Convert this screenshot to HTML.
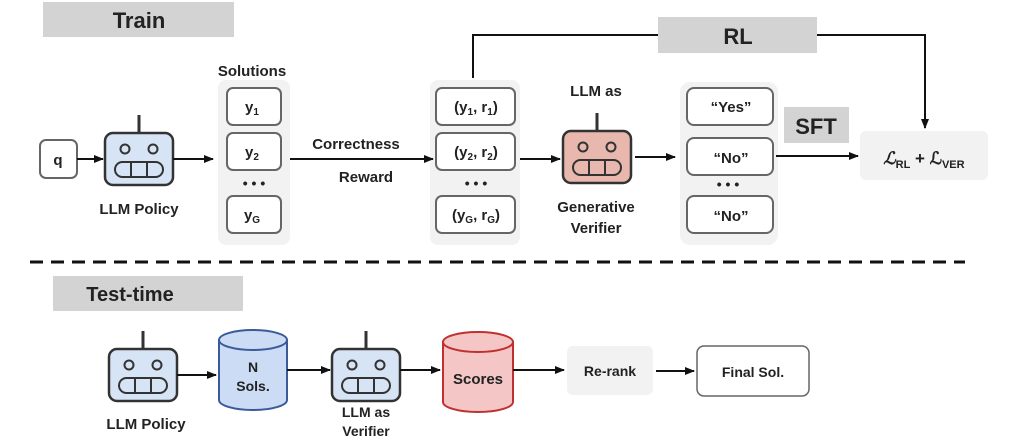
<!DOCTYPE html>
<html><head><style>
html,body{margin:0;padding:0;background:#fff}
svg{display:block}
text{font-family:"Liberation Sans",sans-serif;font-weight:bold;fill:#222}
</style></head><body>
<svg width="1029" height="439" viewBox="0 0 1029 439" xmlns="http://www.w3.org/2000/svg">
<defs>
<marker id="a" markerWidth="10" markerHeight="8" refX="9" refY="4" orient="auto" markerUnits="userSpaceOnUse"><path d="M0,0 L10,4 L0,8 z" fill="#111"/></marker>
<g id="bot">
<line x1="0" y1="-44" x2="0" y2="-26" stroke="#333" stroke-width="3"/>
<rect x="-34" y="-26" width="68" height="52" rx="8" stroke="#333" stroke-width="2.5"/>
<circle cx="-14" cy="-10" r="4.5" fill="none" stroke="#333" stroke-width="2"/>
<circle cx="14" cy="-10" r="4.5" fill="none" stroke="#333" stroke-width="2"/>
<rect x="-24" y="3" width="48" height="15" rx="7.5" fill="none" stroke="#333" stroke-width="2"/>
<line x1="-8" y1="3" x2="-8" y2="18" stroke="#333" stroke-width="2"/>
<line x1="8" y1="3" x2="8" y2="18" stroke="#333" stroke-width="2"/>
</g>
</defs>
<rect x="43" y="2" width="191" height="35" fill="#d3d3d3"/>
<text x="139" y="28" font-size="22" text-anchor="middle">Train</text>
<polyline points="473,78 473,35 658,35" fill="none" stroke="#111" stroke-width="2"/>
<polyline points="817,35 925,35 925,128" fill="none" stroke="#111" stroke-width="2" marker-end="url(#a)"/>
<rect x="658" y="17" width="159" height="36" fill="#d3d3d3"/>
<text x="738" y="44" font-size="22" text-anchor="middle">RL</text>
<rect x="40" y="140" width="37" height="38" rx="6" fill="#fff" stroke="#666" stroke-width="2"/>
<text x="58" y="165" font-size="15" text-anchor="middle">q</text>
<line x1="77" y1="159" x2="103" y2="159" stroke="#111" stroke-width="2" marker-end="url(#a)"/>
<use href="#bot" x="139" y="159" fill="#d6e4f5"/>
<text x="139" y="214" font-size="15" text-anchor="middle">LLM Policy</text>
<line x1="173" y1="159" x2="213" y2="159" stroke="#111" stroke-width="2" marker-end="url(#a)"/>
<text x="252" y="76" font-size="15" text-anchor="middle">Solutions</text>
<rect x="218" y="80" width="72" height="165" rx="8" fill="#f2f2f2"/>
<rect x="430" y="80" width="90" height="165" rx="8" fill="#f2f2f2"/>
<g fill="#fff" stroke="#666" stroke-width="2">
<rect x="227" y="88" width="54" height="37" rx="6"/><rect x="227" y="133" width="54" height="37" rx="6"/><rect x="227" y="196" width="54" height="37" rx="6"/>
<rect x="436" y="88" width="79" height="37" rx="6"/><rect x="436" y="133" width="79" height="37" rx="6"/><rect x="436" y="196" width="79" height="37" rx="6"/>
</g>
<text font-size="15" text-anchor="middle"><tspan x="252" y="112">y<tspan font-size="10" dy="3">1</tspan></tspan></text>
<text font-size="15" text-anchor="middle"><tspan x="252" y="157">y<tspan font-size="10" dy="3">2</tspan></tspan></text>
<text x="254" y="188" font-size="14" text-anchor="middle">• • •</text>
<text font-size="15" text-anchor="middle"><tspan x="252" y="220">y<tspan font-size="10" dy="3">G</tspan></tspan></text>
<line x1="290" y1="159" x2="433" y2="159" stroke="#111" stroke-width="2" marker-end="url(#a)"/>
<text x="356" y="149" font-size="15" text-anchor="middle">Correctness</text>
<text x="366" y="182" font-size="15" text-anchor="middle">Reward</text>
<text x="476" y="112" font-size="15" text-anchor="middle">(y<tspan font-size="10" dy="3">1</tspan><tspan dy="-3">, r</tspan><tspan font-size="10" dy="3">1</tspan><tspan dy="-3">)</tspan></text>
<text x="476" y="157" font-size="15" text-anchor="middle">(y<tspan font-size="10" dy="3">2</tspan><tspan dy="-3">, r</tspan><tspan font-size="10" dy="3">2</tspan><tspan dy="-3">)</tspan></text>
<text x="476" y="188" font-size="14" text-anchor="middle">• • •</text>
<text x="476" y="220" font-size="15" text-anchor="middle">(y<tspan font-size="10" dy="3">G</tspan><tspan dy="-3">, r</tspan><tspan font-size="10" dy="3">G</tspan><tspan dy="-3">)</tspan></text>
<line x1="520" y1="159" x2="560" y2="159" stroke="#111" stroke-width="2" marker-end="url(#a)"/>
<text x="596" y="96" font-size="15" text-anchor="middle">LLM as</text>
<use href="#bot" x="597" y="157" fill="#e8b8ae"/>
<text x="596" y="212" font-size="15" text-anchor="middle">Generative</text>
<text x="596" y="233" font-size="15" text-anchor="middle">Verifier</text>
<line x1="635" y1="157" x2="675" y2="157" stroke="#111" stroke-width="2" marker-end="url(#a)"/>
<rect x="680" y="82" width="98" height="163" rx="10" fill="#f2f2f2"/>
<g fill="#fff" stroke="#666" stroke-width="2">
<rect x="687" y="88" width="86" height="37" rx="7"/><rect x="687" y="138" width="86" height="37" rx="7"/><rect x="687" y="196" width="86" height="37" rx="7"/>
</g>
<text x="731" y="112" font-size="15" text-anchor="middle">“Yes”</text>
<text x="731" y="163" font-size="15" text-anchor="middle">“No”</text>
<text x="728" y="189" font-size="14" text-anchor="middle">• • •</text>
<text x="731" y="221" font-size="15" text-anchor="middle">“No”</text>
<rect x="784" y="107" width="65" height="36" fill="#d3d3d3"/>
<text x="816" y="134" font-size="22" text-anchor="middle">SFT</text>
<line x1="776" y1="156" x2="858" y2="156" stroke="#111" stroke-width="2" marker-end="url(#a)"/>
<rect x="860" y="131" width="128" height="49" rx="6" fill="#f2f2f2"/>
<text x="924" y="164" font-size="17" text-anchor="middle" font-family="Liberation Serif" font-style="italic">ℒ<tspan font-size="11" font-style="normal" font-family="Liberation Sans" dy="4">RL</tspan><tspan dy="-4" font-style="normal"> + ℒ</tspan><tspan font-size="11" font-style="normal" font-family="Liberation Sans" dy="4">VER</tspan></text>
<line x1="30" y1="262" x2="965" y2="262" stroke="#111" stroke-width="3" stroke-dasharray="13,8"/>
<rect x="53" y="276" width="190" height="35" fill="#d3d3d3"/>
<text x="130" y="301" font-size="20" text-anchor="middle">Test-time</text>
<use href="#bot" x="143" y="375" fill="#d6e4f5"/>
<text x="146" y="429" font-size="15" text-anchor="middle">LLM Policy</text>
<line x1="177" y1="375" x2="216" y2="375" stroke="#111" stroke-width="2" marker-end="url(#a)"/>
<g stroke="#3a5a9a" stroke-width="2" fill="#cddcf5">
<path d="M219,340 L219,400 A34,10 0 0 0 287,400 L287,340"/>
<ellipse cx="253" cy="340" rx="34" ry="10"/>
</g>
<text x="253" y="372" font-size="14" text-anchor="middle">N</text>
<text x="253" y="391" font-size="14" text-anchor="middle">Sols.</text>
<line x1="287" y1="370" x2="330" y2="370" stroke="#111" stroke-width="2" marker-end="url(#a)"/>
<use href="#bot" x="366" y="375" fill="#d6e4f5"/>
<text x="366" y="417" font-size="14" text-anchor="middle">LLM as</text>
<text x="366" y="436" font-size="14" text-anchor="middle">Verifier</text>
<line x1="400" y1="370" x2="440" y2="370" stroke="#111" stroke-width="2" marker-end="url(#a)"/>
<g stroke="#c03030" stroke-width="2" fill="#f4c6c6">
<path d="M443,342 L443,402 A35,10 0 0 0 513,402 L513,342"/>
<ellipse cx="478" cy="342" rx="35" ry="10"/>
</g>
<text x="478" y="384" font-size="15" text-anchor="middle">Scores</text>
<line x1="513" y1="370" x2="564" y2="370" stroke="#111" stroke-width="2" marker-end="url(#a)"/>
<rect x="567" y="346" width="86" height="49" rx="6" fill="#f2f2f2"/>
<text x="610" y="376" font-size="14" text-anchor="middle">Re-rank</text>
<line x1="656" y1="371" x2="694" y2="371" stroke="#111" stroke-width="2" marker-end="url(#a)"/>
<rect x="697" y="346" width="112" height="50" rx="7" fill="#fff" stroke="#666" stroke-width="1.5"/>
<text x="753" y="377" font-size="14" text-anchor="middle">Final Sol.</text>
</svg>
</body></html>
